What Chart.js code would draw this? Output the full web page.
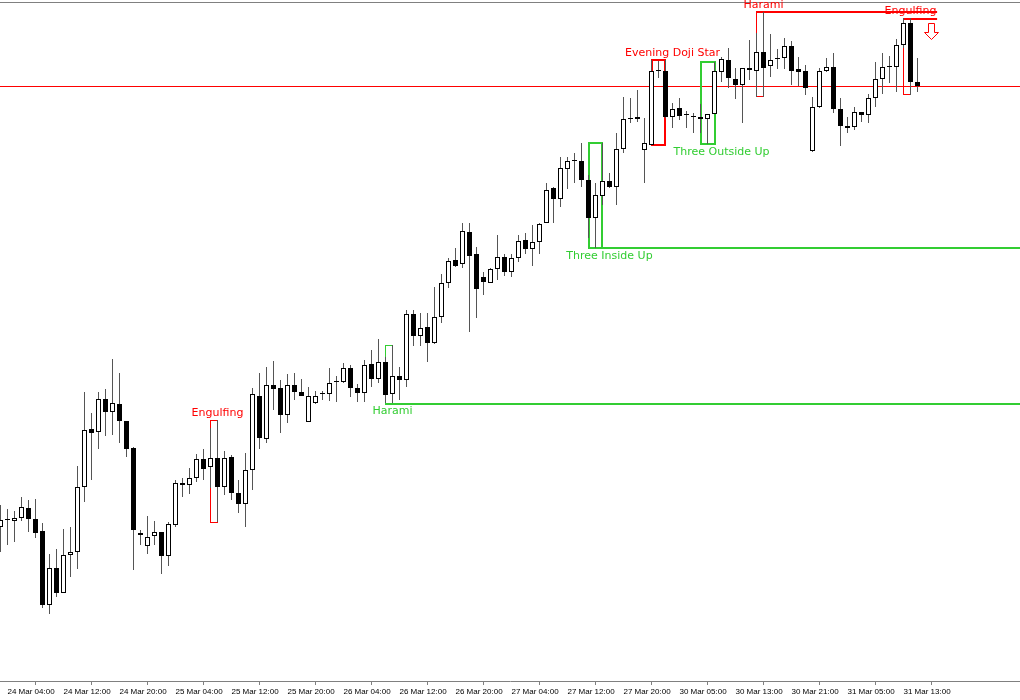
<!DOCTYPE html>
<html><head><meta charset="utf-8">
<script src="https://cdn.jsdelivr.net/npm/chart.js@4.4.1/dist/chart.umd.min.js"></script>
<style>html,body{margin:0;padding:0;background:#fff;overflow:hidden}canvas{display:block}</style>
</head><body>
<canvas id="c" width="1020" height="700"></canvas>
<script>
// Hourly candles (index 0 = 24 Mar 03:00), values in chart points
const opens = [173,180,179,182,192,181,169,95,132,107,145,148,213,271,268,301,288,296,279,252,
167,154,164,168,144,175,217,215,222,241,233,242,213,243,207,196,230,304,261,315,
312,285,315,308,278,297,306,306,318,318,332,312,307,336,321,338,306,324,320,386,
364,373,357,383,417,440,436,468,446,423,417,431,443,428,442,460,451,458,477,512,
501,531,540,539,520,482,504,519,513,551,581,583,550,555,629,629,583,592,585,584,
583,581,586,628,640,621,615,630,629,648,634,641,642,654,631,629,549,593,629,633,
591,574,573,588,585,602,621,634,633,655,677,618];
const highs = [195,191,189,203,200,201,177,146,151,171,173,234,308,287,308,311,341,327,279,253,
170,184,179,168,178,220,222,232,246,251,272,280,249,245,220,247,312,327,333,339,
320,326,327,321,313,309,309,332,324,337,335,316,340,350,361,343,355,333,390,390,
387,387,413,426,442,452,477,477,453,428,432,465,446,446,465,467,475,477,517,513,
543,543,547,557,525,517,557,527,567,603,602,610,582,640,639,640,597,602,589,587,
596,586,638,643,652,632,632,660,667,688,666,651,662,659,643,635,603,632,642,647,
602,583,593,588,606,638,647,644,661,682,682,642];
const lows = [148,155,158,179,168,162,92,86,103,107,123,131,198,220,251,264,265,257,243,130,
155,146,155,126,134,173,203,206,218,220,212,178,205,200,187,173,210,251,257,290,
267,277,300,304,278,296,300,299,298,317,303,298,298,313,317,297,297,300,313,354,
354,338,356,377,412,433,432,368,382,405,417,420,424,423,438,446,434,446,477,477,
493,511,517,513,462,452,495,512,495,547,577,578,517,555,622,582,572,580,572,567,
567,556,586,618,612,601,577,620,603,603,623,631,631,615,614,605,548,592,628,587,
554,567,570,578,577,593,606,617,608,652,605,608];
const closes = [180,181,182,193,181,167,95,132,107,145,148,213,270,267,301,288,297,279,251,170,
165,163,168,144,176,217,215,222,241,231,242,213,242,207,196,230,306,262,315,311,
285,315,308,304,304,304,307,317,319,332,312,307,335,321,338,305,324,320,386,364,
372,357,383,417,439,434,469,444,411,418,431,443,428,442,459,451,458,476,510,501,
532,539,539,520,482,505,519,513,551,581,582,581,557,629,630,583,591,584,586,583,
581,586,629,641,622,615,632,632,648,632,640,642,654,629,628,612,593,629,633,591,
574,572,588,585,602,621,633,633,655,677,618,614];

// x-axis tick labels (every 8th bar)
const tickBars = [1,9,17,25,33,41,49,57,65,73,81,89,97,105,113,121,129];
const tickLabels = ['24 Mar 04:00','24 Mar 12:00','24 Mar 20:00','25 Mar 04:00','25 Mar 12:00',
'25 Mar 20:00','26 Mar 04:00','26 Mar 12:00','26 Mar 20:00','27 Mar 04:00','27 Mar 12:00',
'27 Mar 20:00','30 Mar 05:00','30 Mar 13:00','30 Mar 21:00','31 Mar 05:00','31 Mar 13:00'];

// detected candlestick patterns
const patternNames = ['Engulfing','Harami','Three Inside Up','Evening Doji Star','Three Outside Up','Harami','Engulfing'];
const patternFrom  = [30,55,84,93,100,108,129];
const patternTo    = [31,56,86,95,102,109,130];
const patternBull  = [false,true,true,false,true,false,false];
const patternLevelEnd = [null,'edge','edge',null,null,133.8,133.8];

const signalBar = 133, signalPrice = 677;
const bidPrice = closes[closes.length - 1];

const RED = '#ff0000', GREEN = '#32cd32';

function crisp(v, lw){ return lw % 2 ? Math.floor(v) + 0.5 : Math.round(v); }

const overlay = {
  id: 'overlay',
  beforeDatasetsDraw(chart){
    const {ctx, chartArea:a, scales:{x, y}} = chart;
    ctx.save();
    // top frame
    ctx.fillStyle = '#808080';
    ctx.fillRect(a.left, a.top, a.right - a.left, 1);
    // bid line
    ctx.fillStyle = RED;
    ctx.fillRect(a.left, Math.floor(y.getPixelForValue(bidPrice)), a.right - a.left, 1);
    // patterns
    patternNames.forEach((name, p) => {
      const f = patternFrom[p], t = patternTo[p];
      let hi = -Infinity, lo = Infinity;
      for (let i = f; i <= t; i++){ hi = Math.max(hi, highs[i]); lo = Math.min(lo, lows[i]); }
      const col = patternBull[p] ? GREEN : RED;
      const lw = (t - f >= 2) ? 2 : 1;
      const x1 = crisp(x.getPixelForValue(f), lw), x2 = crisp(x.getPixelForValue(t), lw);
      const yT = crisp(y.getPixelForValue(hi), lw), yB = crisp(y.getPixelForValue(lo), lw);
      ctx.strokeStyle = col; ctx.lineWidth = lw;
      ctx.strokeRect(x1, yT, x2 - x1, yB - yT);
      // level line
      const end = patternLevelEnd[p];
      if (end !== null){
        const ly = Math.round(patternBull[p] ? yB : yT);
        const ex = end === 'edge' ? a.right : x.getPixelForValue(end);
        const sx = Math.floor(x1);
        ctx.fillStyle = col;
        ctx.fillRect(sx, ly - 1, ex - sx, 2);
      }
      // label
      const lb = lw === 2 ? t + 1 : t;
      ctx.fillStyle = col;
      ctx.font = '11px "DejaVu Sans"';
      ctx.textAlign = 'center'; ctx.textBaseline = 'middle';
      const ty = patternBull[p] ? y.getPixelForValue(lo) + 8 : y.getPixelForValue(hi) - 6.5;
      ctx.fillText(name, x.getPixelForValue(lb), ty);
    });
    // sell arrow
    const cx = x.getPixelForValue(signalBar), t0 = Math.round(y.getPixelForValue(signalPrice)) + 0.5;
    ctx.beginPath();
    ctx.moveTo(cx - 3, t0); ctx.lineTo(cx + 3, t0); ctx.lineTo(cx + 3, t0 + 9);
    ctx.lineTo(cx + 7, t0 + 9); ctx.lineTo(cx, t0 + 16); ctx.lineTo(cx - 7, t0 + 9);
    ctx.lineTo(cx - 3, t0 + 9); ctx.closePath();
    ctx.fillStyle = '#fff'; ctx.fill();
    ctx.strokeStyle = RED; ctx.lineWidth = 1; ctx.stroke();
    ctx.restore();
  }
};

const xMin = -0.5 / 7;
new Chart(document.getElementById('c'), {
  type: 'bar',
  data: {
    datasets: [
      {
        label: 'body',
        data: opens.map((o, i) => ({x: i, y: [o, closes[i]]})),
        backgroundColor: opens.map((o, i) => closes[i] >= o ? '#ffffff' : '#000000'),
        borderColor: '#000000', borderWidth: 1, borderSkipped: false,
        barThickness: 5, grouped: false, inflateAmount: 0
      },
      {
        label: 'wick',
        data: highs.map((h, i) => ({x: i, y: [lows[i], h]})),
        backgroundColor: '#555555', borderWidth: 0,
        barThickness: 1, grouped: false, inflateAmount: 0
      }
    ]
  },
  options: {
    responsive: false, animation: false, devicePixelRatio: 1,
    layout: {padding: {top: 2, left: 0, right: 0, bottom: 1.4}},
    plugins: {legend: {display: false}, tooltip: {enabled: false}},
    scales: {
      x: {
        type: 'linear', min: xMin, max: xMin + 1020 / 7, offset: false,
        afterBuildTicks: s => { s.ticks = tickBars.map(v => ({value: v})); },
        ticks: {autoSkip: false, maxRotation: 0, minRotation: 0, align: 'start', padding: 2,
          color: '#000', font: {family: '"Liberation Sans"', size: 8},
          callback: (v, i) => tickLabels[i]},
        grid: {drawOnChartArea: false, drawTicks: true, tickLength: 4, color: '#808080'},
        border: {display: true, color: '#808080'}
      },
      y: {type: 'linear', display: false, min: 19, max: 698}
    }
  },
  plugins: [overlay]
});
</script>
</body></html>
